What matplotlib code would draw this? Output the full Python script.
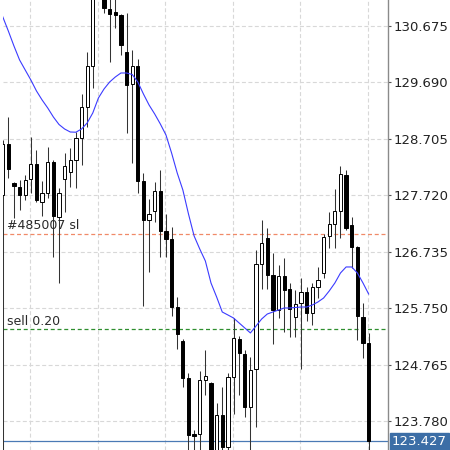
import matplotlib
matplotlib.use("Agg")
import matplotlib.pyplot as plt
from matplotlib.patches import Rectangle

# ---- data ----
opens = [127.725, 128.616, 127.935, 127.865, 127.725, 128.005, 128.266, 127.603, 127.760, 128.301,
         127.341, 128.005, 128.127, 128.336, 128.720, 129.261, 129.977, 131.304, 131.216, 130.972,
         130.920, 130.867, 130.221, 129.663, 129.977, 127.970, 127.289, 127.446, 127.795, 127.097,
         126.957, 125.770, 125.177, 124.531, 123.554, 123.554, 124.496, 124.444, 123.012, 123.885,
         123.327, 124.549, 125.212, 124.950, 124.025, 124.688, 126.521, 126.975, 126.329, 125.718,
         126.311, 126.085, 125.596, 125.840, 126.032, 125.666, 126.119, 126.364, 127.010, 127.219,
         127.446, 128.074, 127.202, 126.818, 125.596, 125.142]
highs = [128.685, 129.087, 127.952, 127.987, 128.074, 128.738, 128.511, 127.970, 128.563, 128.336,
         127.848, 128.458, 128.546, 128.825, 129.488, 130.221, 131.391, 132.002, 131.391, 131.216,
         131.181, 130.885, 130.902, 130.256, 130.099, 128.109, 127.655, 127.952, 128.162, 127.394,
         127.167, 125.945, 125.212, 124.618, 123.623, 124.653, 125.020, 124.461, 124.095, 124.374,
         124.618, 125.578, 125.264, 125.020, 124.898, 126.765, 127.289, 127.149, 126.713, 126.503,
         126.626, 126.189, 126.067, 126.276, 126.119, 126.189, 126.469, 127.045, 127.429, 127.830,
         128.232, 128.162, 127.341, 126.835, 125.840, 125.317]
lows = [122.925, 128.022, 127.324, 127.463, 127.638, 127.760, 127.603, 127.359, 127.673, 126.643,
        126.189, 127.429, 127.865, 127.848, 128.249, 128.912, 129.593, 131.181, 130.902, 130.047,
        130.640, 130.169, 128.807, 128.284, 127.760, 125.788, 126.381, 127.254, 126.643, 126.643,
        125.613, 125.037, 124.374, 122.925, 122.925, 122.925, 124.234, 122.751, 122.751, 122.925,
        122.925, 123.903, 124.234, 123.850, 122.925, 123.676, 126.085, 126.085, 125.125, 125.578,
        125.334, 125.247, 125.247, 124.688, 125.526, 125.456, 125.927, 126.276, 126.800, 126.800,
        126.975, 127.114, 126.451, 125.194, 124.880, 122.925]
closes = [128.616, 128.179, 127.882, 127.725, 127.987, 128.266, 127.638, 127.760, 128.301, 127.359,
          127.760, 128.232, 128.336, 128.720, 129.261, 129.977, 131.216, 131.827, 130.989, 130.885,
          130.867, 130.344, 129.645, 129.977, 127.970, 127.289, 127.394, 127.795, 127.097, 126.957,
          125.770, 125.299, 124.531, 123.536, 123.519, 124.496, 124.566, 123.012, 123.885, 123.327,
          124.549, 125.229, 124.967, 124.025, 124.671, 126.521, 126.887, 126.329, 125.718, 126.311,
          126.067, 125.735, 125.823, 126.032, 125.666, 126.119, 126.242, 126.992, 127.219, 127.446,
          128.092, 127.149, 126.818, 125.613, 125.142, 123.427]
ma = [130.838, 130.588, 130.326, 130.082, 129.907, 129.733, 129.541, 129.384, 129.244, 129.087,
      128.956, 128.877, 128.825, 128.821, 128.877, 128.982, 129.157, 129.418, 129.576, 129.698,
      129.785, 129.855, 129.855, 129.829, 129.698, 129.488, 129.296, 129.139, 128.965, 128.773,
      128.458, 128.109, 127.813, 127.394, 127.010, 126.783, 126.573, 126.189, 125.945, 125.683,
      125.631, 125.578, 125.491, 125.404, 125.317, 125.439, 125.561, 125.648, 125.683, 125.718,
      125.753, 125.753, 125.762, 125.770, 125.770, 125.805, 125.858, 125.927, 126.050, 126.189,
      126.364, 126.469, 126.469, 126.364, 126.189, 125.997]

ytick_values = [130.675, 129.690, 128.705, 127.720, 126.735, 125.750, 124.765, 123.780]
ytick_labels = ["130.675", "129.690", "128.705", "127.720", "126.735", "125.750", "124.765", "123.780"]
grid_candles = [5, 17, 29, 41, 53, 65]

sl_price = 127.05
sl_label = "#485007 sl"
order_price = 125.38
order_label = "sell 0.20"
bid_price = 123.427
bid_label = "123.427"

# ---- figure ----
fig = plt.figure(figsize=(4.5, 4.5), dpi=100)
ax = fig.add_axes([2.7 / 450, 0.0, (388 - 2.7) / 450, 1.0])
ax.set_xlim(0, 68.44)
ax.set_ylim(123.274, 131.129)

# grid
for v in ytick_values:
    ax.axhline(v, color="#d8d8d8", lw=0.8, dashes=(3.6, 2.2), zorder=0)
for c in grid_candles:
    ax.axvline(c - 0.12, color="#d8d8d8", lw=0.8, dashes=(3.6, 2.2), zorder=0)

# candles
body_w = 0.58
for i, (o, h, l, c) in enumerate(zip(opens, highs, lows, closes)):
    ax.plot([i, i], [l, h], color="#333333", lw=0.75, zorder=2, solid_capstyle="butt")
    bull = c >= o
    bottom = min(o, c)
    height = max(abs(c - o), 0.01)
    ax.add_patch(Rectangle((i - body_w / 2, bottom), body_w, height,
                           facecolor="white" if bull else "black",
                           edgecolor="black", lw=0.7, zorder=3))

# moving average
ax.plot(range(len(ma)), ma, color="#3b3bff", lw=0.8, zorder=4)

# order lines
ax.axhline(sl_price, color="#f08a68", lw=0.9, dashes=(3.2, 2.2), zorder=1)
ax.axhline(order_price, color="#2f8f2f", lw=0.9, dashes=(3.2, 2.2), zorder=1)
ax.axhline(bid_price, color="#4a7ab5", lw=0.9, zorder=1)

ax.annotate(sl_label, xy=(0, sl_price), xytext=(4.3, 1.5), textcoords="offset pixels",
            fontsize=9, color="#2a2a2a", va="bottom", ha="left", zorder=5)
ax.annotate(order_label, xy=(0, order_price), xytext=(4.3, 1.5), textcoords="offset pixels",
            fontsize=9, color="#2a2a2a", va="bottom", ha="left", zorder=5)

# axes styling
for s in ["top", "left", "bottom"]:
    ax.spines[s].set_visible(False)
ax.spines["right"].set_color("#8a8a8a")
ax.spines["right"].set_linewidth(1.0)
ax.set_xticks([])
ax.yaxis.tick_right()
ax.set_yticks(ytick_values)
ax.set_yticklabels(ytick_labels)
ax.tick_params(axis="y", direction="out", length=2.5, width=0.8, color="#555555",
               labelsize=9.5, labelcolor="#222222", pad=1.5)

# current price label
ax.annotate(bid_label, xy=(1.0, bid_price), xycoords=("axes fraction", "data"),
            xytext=(4, 0), textcoords="offset pixels", fontsize=9.5, color="white",
            va="center", ha="left",
            bbox=dict(boxstyle="square,pad=0.15", facecolor="#3c6ea6", edgecolor="#3c6ea6"),
            annotation_clip=False, zorder=6)

fig.savefig("out.png", dpi=100)
